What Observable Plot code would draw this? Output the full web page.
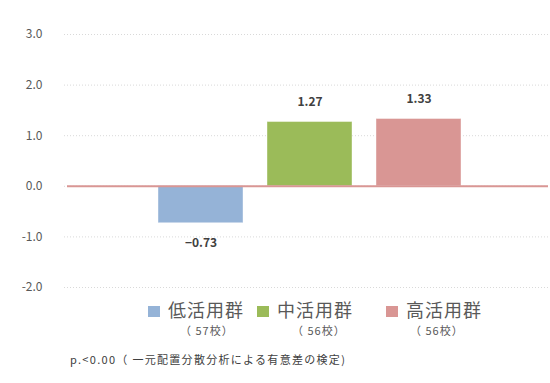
<!DOCTYPE html>
<html><head><meta charset="utf-8">
<script src="https://cdn.jsdelivr.net/npm/d3@7"></script>
<script src="https://cdn.jsdelivr.net/npm/@observablehq/plot@0.6"></script>
<style>
body{margin:0;background:#fff;font-family:"Noto Sans CJK JP","Noto Sans",sans-serif;}
#wrap{position:relative;width:550px;height:383px;}
#chart{position:absolute;left:0;top:0;}
.lg{position:absolute;color:#595959;white-space:nowrap;}
.sw{position:absolute;width:12px;height:11px;}
.nm{position:absolute;font-size:18px;line-height:18px;letter-spacing:1px;}
.sub{position:absolute;font-size:11px;line-height:12px;letter-spacing:1px;}
#cap{position:absolute;left:70px;top:353px;font-size:11px;line-height:13px;color:#404040;letter-spacing:1.3px;white-space:nowrap;}
</style></head>
<body><div id="wrap"><div id="chart"></div><div id="legend"></div><div id="cap"></div></div>
<script>
const groups = ["低活用群","中活用群","高活用群"];
const counts = ["（ 57校）","（ 56校）","（ 56校）"];
const values = [-0.73, 1.27, 1.33];
const colors = ["#95b3d7","#9bbb59","#d99694"];
const yTicks = [-2,-1,0,1,2,3];
const caption = "p.<0.00（ 一元配置分散分析による有意差の検定)";

const data = groups.map((g,i)=>({group:g, value:values[i]}));

const chart = Plot.plot({
  width:550, height:300,
  marginTop:34, marginBottom:13, marginLeft:64, marginRight:2,
  style:{fontFamily:'"Noto Sans CJK JP","Noto Sans",sans-serif', background:"#fff"},
  x:{domain:groups, range:[146,473], paddingInner:0.22, paddingOuter:0.11, axis:null},
  y:{domain:[-2,3], ticks:yTicks},
  color:{domain:groups, range:colors},
  marks:[
    Plot.ruleY(yTicks,{stroke:"#d9d9d9", strokeDasharray:"1,2", strokeWidth:1}),
    Plot.axisY(yTicks,{tickSize:0, tickPadding:22, tickFormat:d=>d.toFixed(1), fontSize:12, fill:"#595959", label:null, style:{letterSpacing:"1.5px"}}),
    Plot.barY(data,{x:"group", y:"value", fill:"group", stroke:"#ffffff", strokeOpacity:0.4}),
    Plot.ruleY([0],{stroke:"#d99694", strokeWidth:2, insetLeft:3}),
    Plot.text(data.filter(d=>d.value>=0),{x:"group", y:"value", text:d=>d.value.toFixed(2), dy:-20, fontSize:12, fontWeight:"bold", fill:"#404040", style:{letterSpacing:"1.5px"}}),
    Plot.text(data.filter(d=>d.value<0),{x:"group", y:"value", text:d=>"−"+Math.abs(d.value).toFixed(2), dy:20, fontSize:12, fontWeight:"bold", fill:"#404040", style:{letterSpacing:"1.5px"}})
  ]
});
document.getElementById("chart").appendChild(chart);

// legend
const lg = document.getElementById("legend");
const swX = [148,257,386];
const subX = [180,292,410];
groups.forEach((g,i)=>{
  const sw=document.createElement("div"); sw.className="sw";
  sw.style.left=swX[i]+"px"; sw.style.top="306px"; sw.style.background=colors[i];
  lg.appendChild(sw);
  const nm=document.createElement("div"); nm.className="lg nm";
  nm.style.left=(swX[i]+20)+"px"; nm.style.top="300px"; nm.textContent=g;
  lg.appendChild(nm);
  const sb=document.createElement("div"); sb.className="lg sub";
  sb.style.left=subX[i]+"px"; sb.style.top="324px"; sb.textContent=counts[i];
  lg.appendChild(sb);
});
document.getElementById("cap").textContent=caption;
</script></body></html>
